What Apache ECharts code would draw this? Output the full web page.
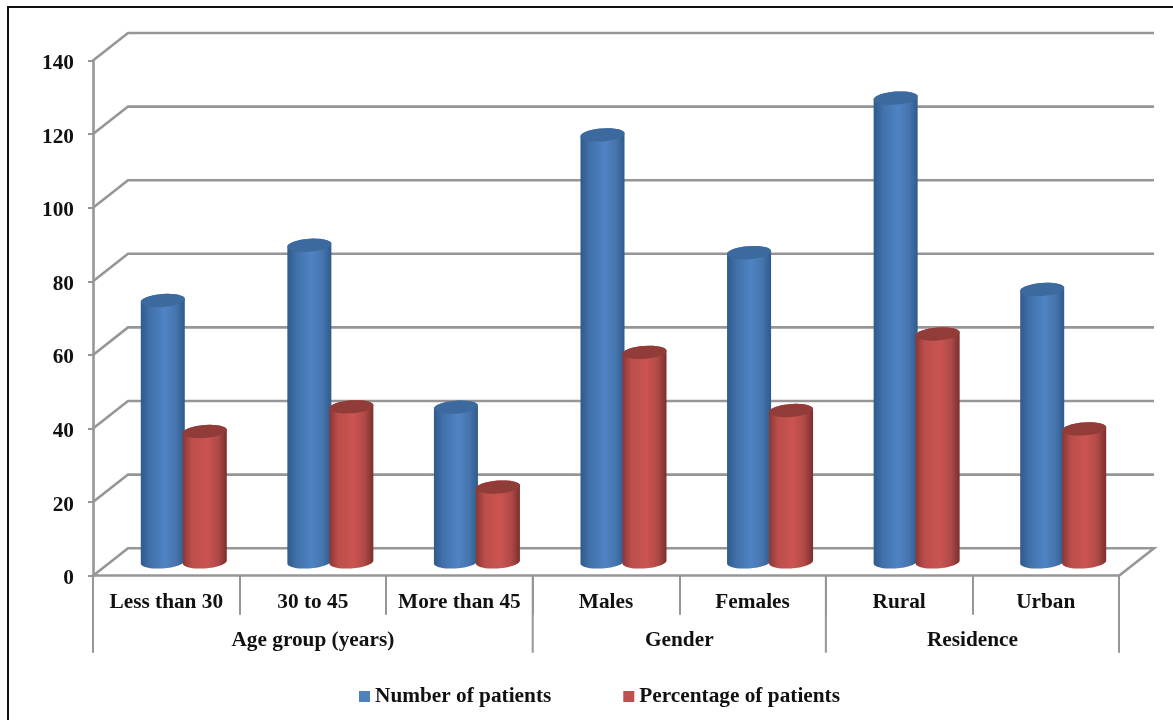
<!DOCTYPE html>
<html>
<head>
<meta charset="utf-8">
<style>
  html, body { margin: 0; padding: 0; background: #fff; }
  #chart { width: 1173px; height: 720px; }
</style>
<script src="https://cdn.jsdelivr.net/npm/echarts@6/dist/echarts.min.js"></script>
</head>
<body>
<div id="chart"></div>
<script>
const categories = ['Less than 30', '30 to 45', 'More than 45', 'Males', 'Females', 'Rural', 'Urban']
const numberOfPatients = [72, 87, 43, 117, 85, 127, 75]
const percentageOfPatients = [36.4, 43.1, 21.3, 57.9, 42.1, 62.9, 37.1]
const groupNames = ['Age group (years)', 'Gender', 'Residence']
const groupSizes = [3, 2, 2]
const yTicks = [0, 20, 40, 60, 80, 100, 120, 140]

const FONT = '"Liberation Serif", "Times New Roman", serif'
const GRID_COLOR = '#969696'
// depth of the fake 3d box, in pixels
const DEPTH_X = 35
const DEPTH_Y = -27.5

const chart = echarts.init(document.getElementById('chart'))

function wall (params, api) {
  const v = api.value(1)
  const front = api.coord([0, v])
  const half = api.size([1, 0])[0] / 2
  const left = front[0] - half
  const right = api.coord([categories.length - 1, v])[0] + half
  const points = [[left, front[1]], [left + DEPTH_X, front[1] + DEPTH_Y], [right + DEPTH_X, front[1] + DEPTH_Y]]
  if (v === 0) points.push([right, front[1]])
  return {
    type: 'polyline',
    shape: { points: points },
    style: { stroke: GRID_COLOR, lineWidth: 2.6, fill: null }
  }
}

function groupLevel (params, api) {
  let start = 0
  for (let i = 0; i < params.dataIndex; i++) start += groupSizes[i]
  const end = start + groupSizes[params.dataIndex]
  const half = api.size([1, 0])[0] / 2
  const zero = api.coord([start, 0])
  const x0 = zero[0] - half
  const x1 = api.coord([end - 1, 0])[0] + half
  const children = [{
    type: 'line',
    shape: { x1: x0, y1: zero[1], x2: x0, y2: zero[1] + 77 },
    style: { stroke: GRID_COLOR, lineWidth: 2 }
  }, {
    type: 'text',
    style: {
      x: (x0 + x1) / 2, y: zero[1] + 65,
      text: groupNames[params.dataIndex],
      fill: '#111', font: 'bold 21.3px ' + FONT,
      textAlign: 'center', textVerticalAlign: 'middle'
    }
  }]
  if (params.dataIndex === groupNames.length - 1) {
    children.push({
      type: 'line',
      shape: { x1: x1, y1: zero[1], x2: x1, y2: zero[1] + 77 },
      style: { stroke: GRID_COLOR, lineWidth: 2 }
    })
  }
  return { type: 'group', children: children }
}

// cylinder drawn from the value's position, shifted half way into the depth
function cylinder (shift, colors) {
  return function (params, api) {
    const idx = api.value(0)
    const top = api.coord([idx, api.value(1)])
    const bottom = api.coord([idx, 0])
    const cx = top[0] + DEPTH_X / 2 + shift
    const yTop = top[1] + DEPTH_Y / 2 + 3.5
    const yBot = bottom[1] + DEPTH_Y / 2
    const rx = 22
    const ry = 6.5
    const tilt = 1.5
    const rim = (y, from, to) => {
      const pts = []
      for (let i = 0; i <= 32; i++) {
        const t = from + (to - from) * i / 32
        pts.push([cx + rx * Math.cos(t), y + ry * Math.sin(t) - tilt * Math.cos(t)])
      }
      return pts
    }
    return {
      type: 'group',
      children: [{
        type: 'polygon',
        shape: { points: rim(yTop, Math.PI, 2 * Math.PI).concat(rim(yBot, 0, Math.PI)) },
        style: {
          fill: new echarts.graphic.LinearGradient(0, 0, 1, 0, colors.body)
        }
      }, {
        type: 'polygon',
        shape: { points: rim(yTop, 0, 2 * Math.PI) },
        style: { fill: colors.cap }
      }]
    }
  }
}

const blue = {
  cap: '#3c6a9f',
  body: [
    { offset: 0, color: '#2f5a8c' },
    { offset: 0.2, color: '#4070a8' },
    { offset: 0.55, color: '#4f83c4' },
    { offset: 0.8, color: '#4675ad' },
    { offset: 1, color: '#2f5a8c' }
  ]
}
const red = {
  cap: '#923c3a',
  body: [
    { offset: 0, color: '#8a3735' },
    { offset: 0.2, color: '#bb4e4b' },
    { offset: 0.55, color: '#cb5451' },
    { offset: 0.8, color: '#b04a47' },
    { offset: 1, color: '#7a2f2d' }
  ]
}

chart.setOption({
  animation: false,
  backgroundColor: '#fff',
  grid: { left: 93, right: 54, top: 60.5, bottom: 144.3 },
  legend: {
    data: ['Number of patients', 'Percentage of patients'],
    left: 359,
    top: 686,
    padding: 0,
    icon: 'rect',
    itemWidth: 11,
    itemHeight: 11,
    itemGap: 72,
    textStyle: { fontFamily: FONT, fontWeight: 'bold', fontSize: 21.3, color: '#111' }
  },
  xAxis: {
    type: 'category',
    data: categories,
    axisLine: { lineStyle: { color: GRID_COLOR, width: 2.6 } },
    axisTick: { show: true, length: 39, lineStyle: { color: GRID_COLOR, width: 2 } },
    axisLabel: { fontFamily: FONT, fontWeight: 'bold', fontSize: 21.3, color: '#111', margin: 16, interval: 0 },
    splitLine: { show: false }
  },
  yAxis: {
    type: 'value',
    min: 0,
    max: 140,
    interval: 20,
    axisLine: { show: true, lineStyle: { color: GRID_COLOR, width: 2.6 } },
    axisTick: { show: true, length: 5, lineStyle: { color: GRID_COLOR, width: 2 } },
    axisLabel: {
      margin: 19,
      formatter: '{v|{value}}',
      rich: { v: { fontFamily: FONT, fontWeight: 'bold', fontSize: 21.3, color: '#111', padding: [6, 0, 0, 0] } }
    },
    splitLine: { show: false }
  },
  graphic: [{
    type: 'polyline',
    shape: { points: [[8, 720], [8, 7], [1173, 7]] },
    style: { stroke: '#111', lineWidth: 2, fill: null },
    silent: true
  }],
  series: [{
    name: 'walls',
    type: 'custom',
    renderItem: wall,
    data: yTicks.map(v => [0, v]),
    z: 1,
    silent: true
  }, {
    name: 'groups',
    type: 'custom',
    renderItem: groupLevel,
    data: groupNames.map(() => [0, 0]),
    z: 1,
    silent: true
  }, {
    name: 'Number of patients',
    type: 'custom',
    renderItem: cylinder(-21, blue),
    itemStyle: { color: '#4f81bd' },
    data: numberOfPatients.map((v, i) => [i, v]),
    z: 3
  }, {
    name: 'Percentage of patients',
    type: 'custom',
    renderItem: cylinder(21, red),
    itemStyle: { color: '#c0504d' },
    data: percentageOfPatients.map((v, i) => [i, v]),
    z: 4
  }]
})
</script>
</body>
</html>
